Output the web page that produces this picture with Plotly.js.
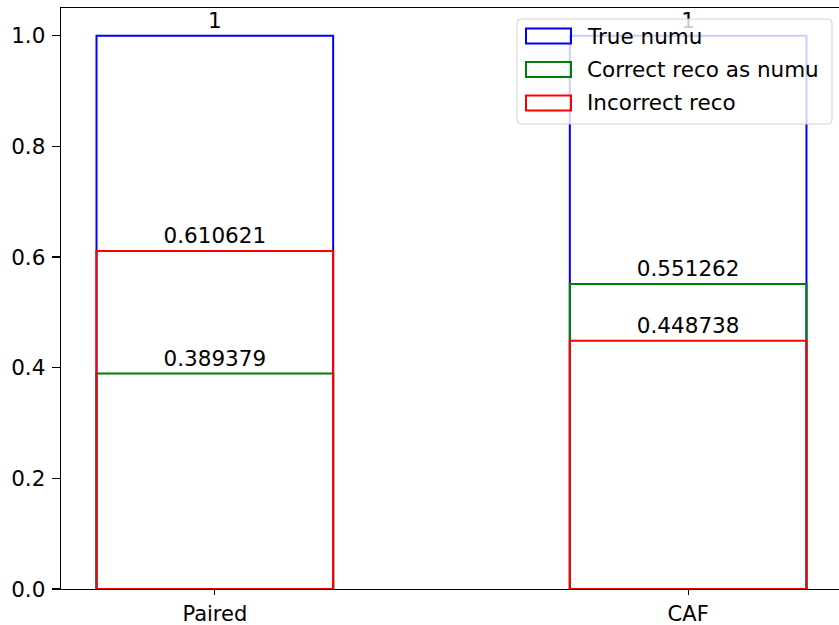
<!DOCTYPE html>
<html>
<head>
<meta charset="utf-8">
<script src="https://cdn.plot.ly/plotly-3.0.1.min.js"></script>
<style>html,body{margin:0;padding:0;background:#fff;}#chart{width:839px;height:625px;}</style>
</head>
<body>
<div id="chart"></div>
<script>
const categories = ['Paired', 'CAF'];
const trueNumu = [1, 1];
const correctReco = [0.389379, 0.551262];
const incorrectReco = [0.610621, 0.448738];
const yTicks = [0, 0.2, 0.4, 0.6, 0.8, 1.0];
const seriesNames = ['True numu', 'Correct reco as numu', 'Incorrect reco'];
const seriesColors = ['#0000ff', '#008000', '#ff0000'];

const W = 839, H = 625;
const M = {l: 61, r: 0, t: 8, b: 36};
const font = {family: 'DejaVu Sans, sans-serif', size: 21.5, color: '#000'};
const xFont = {family: 'DejaVu Sans, sans-serif', size: 21, color: '#000'};

function barTrace(name, vals, color) {
  return {
    type: 'bar', name: name, x: categories, y: vals, width: 0.5,
    marker: {color: 'rgba(0,0,0,0)', line: {color: color, width: 2}},
    text: vals.map(String), textposition: 'outside', cliponaxis: false,
    textfont: font, hoverinfo: 'skip', showlegend: false
  };
}

const seriesVals = [trueNumu, correctReco, incorrectReco];
const data = seriesVals.map((v, i) => barTrace(seriesNames[i], v, seriesColors[i]));

// custom legend (pixel layout -> paper coords)
const pw = W - M.l - M.r, ph = H - M.t - M.b;
const px = x => (x - M.l) / pw;
const py = y => (H - M.b - y) / ph;
const shapes = [];
const annotations = [];
const box = {l: 517, r: 832, t: 19, b: 124, rad: 4};
shapes.push({
  type: 'path', xref: 'paper', yref: 'paper', layer: 'above',
  path: (() => {
    const r = box.rad;
    const pts = [
      ['M', box.l + r, box.t], ['L', box.r - r, box.t], ['Q', box.r, box.t, box.r, box.t + r],
      ['L', box.r, box.b - r], ['Q', box.r, box.b, box.r - r, box.b],
      ['L', box.l + r, box.b], ['Q', box.l, box.b, box.l, box.b - r],
      ['L', box.l, box.t + r], ['Q', box.l, box.t, box.l + r, box.t]
    ];
    return pts.map(p => {
      let s = p[0];
      for (let k = 1; k < p.length; k += 2) s += ' ' + px(p[k]) + ',' + py(p[k + 1]);
      return s;
    }).join(' ') + ' Z';
  })(),
  fillcolor: 'rgba(255,255,255,0.8)', line: {color: 'rgba(204,204,204,0.9)', width: 1}
});
const rowCenters = [36, 69.5, 103];
seriesNames.forEach((name, i) => {
  const cy = rowCenters[i];
  shapes.push({
    type: 'rect', xref: 'paper', yref: 'paper', layer: 'above',
    x0: px(526), x1: px(571), y0: py(cy - 7.5), y1: py(cy + 7.5),
    fillcolor: 'rgba(0,0,0,0)', line: {color: seriesColors[i], width: 2}
  });
  annotations.push({
    xref: 'paper', yref: 'paper', x: px(585), y: py(cy), xanchor: 'left', yanchor: 'middle',
    text: name, showarrow: false, font: font
  });
});

const layout = {
  width: W, height: H,
  margin: {l: M.l, r: M.r, t: M.t, b: M.b, pad: 0},
  barmode: 'overlay',
  paper_bgcolor: '#fff', plot_bgcolor: '#fff',
  font: font,
  showlegend: false,
  shapes: shapes,
  annotations: annotations,
  xaxis: {type: 'category', range: [-0.325, 1.3187], showgrid: false, zeroline: false,
    showline: true, linecolor: '#000', linewidth: 1.3, mirror: true,
    ticks: 'outside', ticklen: 5, tickcolor: '#000', tickwidth: 1.3, tickfont: xFont},
  yaxis: {range: [0, 1.05], showgrid: false, zeroline: false,
    showline: true, linecolor: '#000', linewidth: 1.3,
    tickvals: yTicks, tickformat: '.1f', ticklabelstandoff: 2,
    ticks: 'outside', ticklen: 8, tickcolor: '#000', tickwidth: 1.3, tickfont: font},
  hovermode: false
};

Plotly.newPlot('chart', data, layout, {displayModeBar: false, staticPlot: true});
</script>
</body>
</html>
